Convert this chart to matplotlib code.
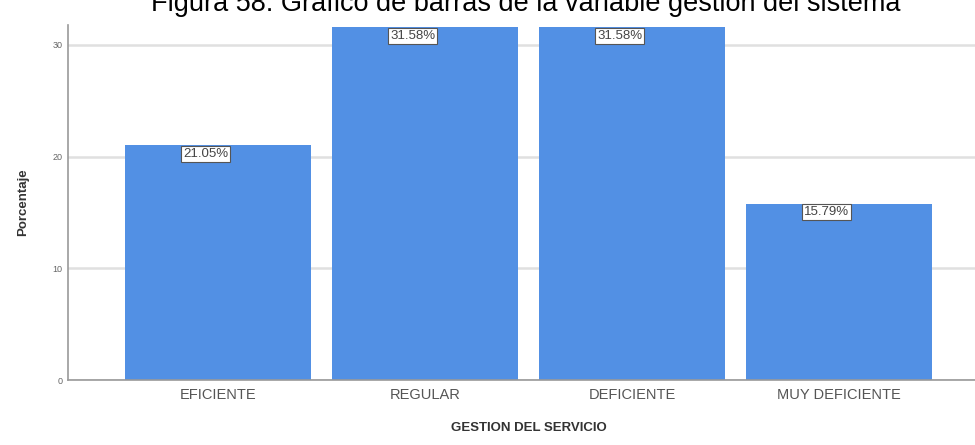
import matplotlib.pyplot as plt
import numpy as np

# Datos del gráfico
categorias = ["EFICIENTE", "REGULAR", "DEFICIENTE", "MUY DEFICIENTE"]
porcentajes = [21.05, 31.58, 31.58, 15.79]
marcas_y = [0, 10, 20, 30]

plt.rcParams['font.family'] = ['Liberation Sans', 'DejaVu Sans']

fig = plt.figure(figsize=(9.75, 4.45), dpi=100)
ax = fig.add_axes([68 / 975, 65 / 445, 921 / 975, 355 / 445])

x = np.arange(len(categorias))
ax.bar(x, porcentajes, width=0.9, color='#5290e4', zorder=2)

# Etiquetas de porcentaje sobre cada barra
for xi, v in zip(x, porcentajes):
    ax.text(xi - 0.06, v - 0.25, f"{v:.2f}%", ha='center', va='top',
            fontsize=9.5, color='#444444', zorder=3,
            bbox=dict(boxstyle='square,pad=0.15', facecolor='white',
                      edgecolor='#555555', linewidth=0.8))

ax.set_xlim(-0.725, 3.725)
ax.set_ylim(0, 31.79)
ax.set_xticks(x)
ax.set_xticklabels(categorias, fontsize=10.5, color='#555555')
ax.set_yticks(marcas_y)
ax.set_yticklabels([str(m) for m in marcas_y], fontsize=6.5, color='#666666')
ax.tick_params(axis='both', length=0, pad=6)
ax.tick_params(axis='y', pad=4)

ax.yaxis.grid(True, color='#e0e0e0', linewidth=1.8, zorder=0)
ax.set_axisbelow(True)
for s in ['top', 'right']:
    ax.spines[s].set_visible(False)
for s in ['left', 'bottom']:
    ax.spines[s].set_color('#999999')
    ax.spines[s].set_linewidth(1.2)

ax.set_xlabel("GESTION DEL SERVICIO", fontsize=9.5, fontweight='bold',
              color='#333333', labelpad=14)
ax.set_ylabel("Porcentaje", fontsize=9.5, fontweight='bold',
              color='#333333', labelpad=17)

fig.text(526 / 975, 1 - 11 / 445,
         "Figura 58: Gráfico de barras de la variable gestión del sistema",
         ha='center', va='baseline', fontsize=19.5, color='black')

fig.savefig("out.png", dpi=100)
